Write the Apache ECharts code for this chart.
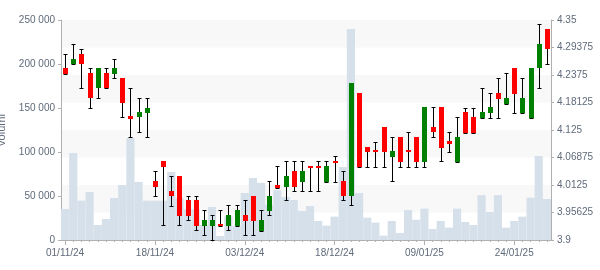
<!DOCTYPE html>
<html><head><meta charset="utf-8">
<script src="https://cdn.jsdelivr.net/npm/echarts@6/dist/echarts.min.js"></script>
<style>html,body{margin:0;padding:0;background:#fff}#c{width:600px;height:270px}</style>
</head><body><div id="c"></div>
<script>
const dates = ['01/11/24','04/11/24','05/11/24','06/11/24','07/11/24','08/11/24','11/11/24','12/11/24','13/11/24','14/11/24',
'15/11/24','18/11/24','19/11/24','20/11/24','21/11/24','22/11/24','25/11/24','26/11/24','27/11/24','28/11/24',
'29/11/24','02/12/24','03/12/24','04/12/24','05/12/24','06/12/24','09/12/24','10/12/24','11/12/24','12/12/24',
'13/12/24','16/12/24','17/12/24','18/12/24','19/12/24','20/12/24','23/12/24','27/12/24','30/12/24','02/01/25',
'03/01/25','06/01/25','07/01/25','08/01/25','09/01/25','10/01/25','13/01/25','14/01/25','15/01/25','16/01/25',
'17/01/25','20/01/25','21/01/25','22/01/25','23/01/25','24/01/25','27/01/25','28/01/25','29/01/25','30/01/25'];

const opens = [4.252,4.261,4.280,4.242,4.210,4.242,4.240,4.231,4.153,4.151,
4.160,4.021,4.062,4.000,4.031,3.982,3.982,3.929,3.929,3.932,
3.929,3.929,3.951,3.991,3.919,3.960,4.012,4.009,4.041,4.019,
4.052,4.052,4.019,4.062,4.021,3.990,4.201,4.090,4.084,4.131,
4.070,4.111,4.084,4.111,4.060,4.131,4.172,4.102,4.060,4.162,
4.152,4.150,4.160,4.201,4.179,4.252,4.160,4.150,4.251,4.332];

const closes = [4.240,4.270,4.261,4.190,4.251,4.210,4.251,4.180,4.148,4.161,
4.171,4.009,4.050,3.991,3.950,3.950,3.929,3.940,3.940,3.928,
3.951,3.961,3.939,3.939,3.940,3.991,4.007,4.031,4.009,4.041,
4.048,4.048,4.051,4.058,3.990,4.221,4.050,4.081,4.079,4.081,
4.082,4.060,4.079,4.060,4.172,4.120,4.089,4.097,4.111,4.119,
4.119,4.161,4.172,4.189,4.190,4.199,4.190,4.252,4.301,4.290];

const lows = [4.240,4.261,4.210,4.171,4.190,4.210,4.231,4.151,4.110,4.120,
4.110,3.991,3.930,3.970,3.930,3.940,3.920,3.910,3.900,3.928,
3.920,3.929,3.910,3.910,3.919,3.951,4.007,3.981,4.000,4.000,
4.000,4.000,4.019,4.019,3.981,3.971,4.050,4.050,4.050,4.050,
4.020,4.050,4.050,4.050,4.050,4.110,4.061,4.081,4.060,4.119,
4.119,4.150,4.150,4.150,4.179,4.160,4.160,4.150,4.211,4.261];

const highs = [4.280,4.300,4.290,4.251,4.251,4.251,4.270,4.231,4.210,4.190,
4.190,4.041,4.062,4.030,4.031,3.991,3.991,3.961,3.951,3.961,
3.971,3.971,3.981,3.991,3.961,4.021,4.051,4.062,4.062,4.062,
4.052,4.062,4.062,4.072,4.041,4.221,4.201,4.090,4.100,4.131,
4.110,4.111,4.120,4.111,4.172,4.172,4.172,4.120,4.151,4.171,
4.171,4.211,4.201,4.231,4.242,4.252,4.231,4.252,4.341,4.332];

const volumes = [35200,98900,44700,54500,17000,23900,47700,62500,115900,65900,
44700,44700,44700,77300,47700,35000,35000,17000,37500,4500,
27000,15700,53400,70500,65000,40000,56500,48900,45500,33000,
38600,21600,16300,26500,83000,239800,53400,25300,19700,4900,
21600,8000,34000,23000,35600,12500,21600,14000,35600,20500,
17000,51000,31800,51000,14000,21600,26500,48000,95500,46600];

const priceTicks = {min:3.9, max:4.35, interval:0.05625};
const volTicks = {min:0, max:250000, interval:50000};

const candleData = dates.map((d,i)=>[i, opens[i], closes[i], lows[i], highs[i]]);

const labelColor = '#5f6a7a';
const axisColor = '#b0b0b0';
const font = "'Liberation Sans', Arial, sans-serif";

function renderCandle(params, api){
  const i = api.value(0), o = api.value(1), c = api.value(2), l = api.value(3), h = api.value(4);
  const pO = api.coord([i,o]), pC = api.coord([i,c]), pL = api.coord([i,l]), pH = api.coord([i,h]);
  const x = Math.round(pO[0]) + 0.5;
  const yH = Math.round(pH[1]) + 0.5, yL = Math.round(pL[1]) + 0.5;
  let top = Math.min(pO[1],pC[1]), bot = Math.max(pO[1],pC[1]);
  const color = c >= o ? '#008000' : '#ff0000';
  const ls = {stroke:'#000', lineWidth:1};
  return {type:'group', children:[
    {type:'line', shape:{x1:x,y1:yH,x2:x,y2:yL}, style:ls},
    {type:'line', shape:{x1:x-2,y1:yH,x2:x+2,y2:yH}, style:ls},
    {type:'line', shape:{x1:x-2,y1:yL,x2:x+2,y2:yL}, style:ls},
    {type:'rect', shape:{x:x-2.5, y:Math.round(top), width:5, height:Math.max(2,Math.round(bot)-Math.round(top))}, style:{fill:color}}
  ]};
}

const chart = echarts.init(document.getElementById('c'), null, {renderer:'canvas'});
chart.setOption({
  animation:false,
  backgroundColor:'#ffffff',
  grid:{left:61, right:49, top:20, bottom:30, containLabel:false, outerBoundsMode:'none'},
  xAxis:[{
    type:'category', data:dates, boundaryGap:true,
    axisLine:{lineStyle:{color:axisColor}},
    axisTick:{show:true, interval:0, alignWithLabel:true, length:2, lineStyle:{color:axisColor}},
    axisLabel:{interval:10, color:labelColor, fontSize:10, fontFamily:font, margin:8},
    splitLine:{show:false}
  },{
    type:'category', data:dates, boundaryGap:true, position:'top', offset:-220,
    axisLine:{show:false},
    axisTick:{show:true, inside:true, interval:10, alignWithLabel:true, length:5, lineStyle:{color:axisColor}},
    axisLabel:{show:false}, splitLine:{show:false}
  }],
  yAxis:[{
    type:'value', position:'left', min:volTicks.min, max:volTicks.max, interval:volTicks.interval,
    name:'volumi', nameLocation:'middle', nameGap:48, nameRotate:90,
    nameTextStyle:{color:labelColor, fontSize:11, fontFamily:font},
    axisLine:{show:true, lineStyle:{color:axisColor}},
    axisTick:{show:true, length:3, lineStyle:{color:axisColor}},
    axisLabel:{color:labelColor, fontSize:10, fontFamily:font, margin:6,
      formatter:v=>String(v).replace(/\B(?=(\d{3})+(?!\d))/g,' ')},
    splitLine:{show:false}
  },{
    type:'value', position:'right', min:priceTicks.min, max:priceTicks.max, interval:priceTicks.interval,
    axisLine:{show:true, lineStyle:{color:axisColor}},
    axisTick:{show:true, length:3, lineStyle:{color:axisColor}},
    axisLabel:{color:labelColor, fontSize:10, fontFamily:font, margin:6,
      formatter:v=>String(parseFloat(v.toFixed(5)))},
    splitLine:{show:false},
    splitArea:{show:true, areaStyle:{color:['#ffffff','#f8f8f8']}}
  }],
  series:[{
    type:'bar', xAxisIndex:0, yAxisIndex:0, data:volumes, barCategoryGap:'0%', barGap:'0%',
    itemStyle:{color:'#d6e0ea'}, z:1, silent:true
  },{
    type:'custom', xAxisIndex:0, yAxisIndex:1, data:candleData, renderItem:renderCandle,
    encode:{x:0, y:[1,2,3,4]}, z:5, clip:false
  }]
});
</script></body></html>
